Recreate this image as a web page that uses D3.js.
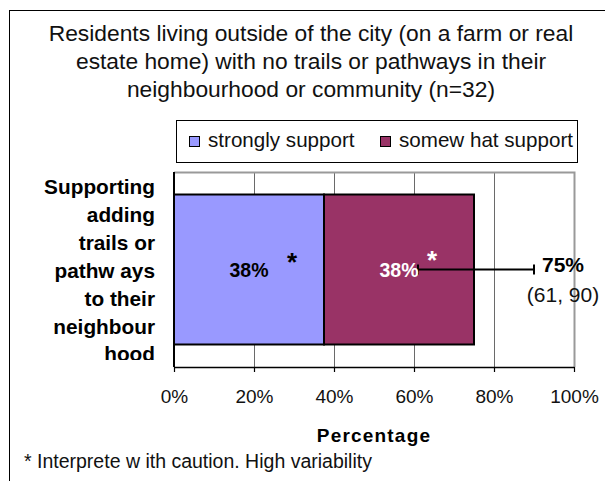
<!DOCTYPE html>
<html>
<head>
<meta charset="utf-8">
<script src="https://cdn.jsdelivr.net/npm/d3@7"></script>
<style>
  html, body { margin: 0; padding: 0; background: #fff; }
  svg { display: block; font-family: "Liberation Sans", Arial, sans-serif; }
</style>
</head>
<body>
<svg id="chart" width="605" height="481"></svg>
<script>
// ---- data ----
const titleLines = [
  "Residents living outside of the city (on a farm or real",
  "estate home) with no trails or pathways in their",
  "neighbourhood or community (n=32)"
];
const categoryName = "Supporting adding trails or pathways to their neighbourhood";
const categoryLines = ["Supporting", "adding", "trails or", "pathw ays", "to their", "neighbour", "hood"];
const seriesNames = ["strongly support", "somew hat support"];
const seriesValues = [37.5, 37.5];
const seriesColors = ["#9999FF", "#993366"];
const seriesLabelColors = ["#000000", "#ffffff"];
const ciBounds = [61, 90];
const xTicks = [0, 20, 40, 60, 80, 100];
const xTitle = "Percentage";
const footnote = "* Interprete w ith caution. High variability";

// ---- layout ----
const svg = d3.select("#chart");
const plot = { left: 174, right: 574, top: 172, bottom: 367 };

const x = d3.scaleLinear().domain([0, 100]).range([plot.left, plot.right]);
const y = d3.scaleBand().domain([categoryName]).range([plot.top, plot.bottom]).padding(0.1305);

// outer frame
svg.append("rect")
  .attr("x", 9.5).attr("y", 10.5)
  .attr("width", 700).attr("height", 600)
  .attr("fill", "none").attr("stroke", "#000").attr("stroke-width", 1);

// title
svg.append("g").selectAll("text")
  .data(titleLines).join("text")
  .attr("x", 311)
  .attr("y", (d, i) => 41 + i * 28)
  .attr("text-anchor", "middle")
  .attr("font-size", 22.8)
  .attr("fill", "#111")
  .text(d => d);

// legend
const legend = svg.append("g");
legend.append("rect")
  .attr("x", 176.5).attr("y", 120.5).attr("width", 401).attr("height", 42)
  .attr("fill", "#fff").attr("stroke", "#000").attr("stroke-width", 1);
const legendX = [189, 380];
const items = legend.selectAll("g.item").data(seriesNames).join("g")
  .attr("class", "item")
  .attr("transform", (d, i) => `translate(${legendX[i]},0)`);
items.append("rect")
  .attr("x", 0.5).attr("y", 136.5).attr("width", 10).attr("height", 10)
  .attr("fill", (d, i) => seriesColors[i]).attr("stroke", "#000").attr("stroke-width", 1);
items.append("text")
  .attr("x", 19).attr("y", 147)
  .attr("font-size", 20.6)
  .attr("fill", "#111")
  .text(d => d);

// gridlines
svg.append("g").selectAll("line")
  .data(xTicks.filter(t => t > 0 && t < 100)).join("line")
  .attr("x1", d => x(d) + 0.5).attr("x2", d => x(d) + 0.5)
  .attr("y1", plot.top).attr("y2", plot.bottom)
  .attr("stroke", "#6a6a6a").attr("stroke-width", 1);

// plot border (top and right in grey)
svg.append("path")
  .attr("d", `M${plot.left},${plot.top + 0.5}H${plot.right + 0.5}V${plot.bottom}`)
  .attr("fill", "none").attr("stroke", "#999").attr("stroke-width", 2);

// stacked bar segments
let acc = 0;
const segments = seriesValues.map((v, i) => {
  const s = { name: seriesNames[i], value: v, x0: acc, x1: acc + v, i };
  acc += v;
  return s;
});
const total = acc;

svg.append("g").selectAll("rect")
  .data(segments).join("rect")
  .attr("x", d => x(d.x0))
  .attr("y", y(categoryName))
  .attr("width", d => x(d.x1) - x(d.x0))
  .attr("height", y.bandwidth())
  .attr("fill", d => seriesColors[d.i])
  .attr("stroke", "#000").attr("stroke-width", 2);

// left axis line
svg.append("line")
  .attr("x1", plot.left).attr("x2", plot.left)
  .attr("y1", plot.top).attr("y2", plot.bottom)
  .attr("stroke", "#000").attr("stroke-width", 2);

// bottom axis
const xAxis = svg.append("g")
  .attr("transform", `translate(0,${plot.bottom})`)
  .call(d3.axisBottom(x).tickValues(xTicks).tickSize(5).tickSizeOuter(0).tickPadding(17.5)
    .tickFormat(d => d + "%"));
xAxis.select(".domain").attr("stroke", "#000").attr("stroke-width", 1.5);
xAxis.selectAll(".tick line").attr("stroke", "#000").attr("stroke-width", 1.2);
xAxis.selectAll(".tick text")
  .attr("font-family", "Liberation Sans, Arial, sans-serif")
  .attr("font-size", 19).attr("fill", "#111");

// axis title
svg.append("text")
  .attr("x", (plot.left + plot.right) / 2).attr("y", 442)
  .attr("text-anchor", "middle")
  .attr("font-size", 19).attr("font-weight", "bold")
  .attr("letter-spacing", 1.2)
  .text(xTitle);

// category label (wrapped, clipped at the bottom)
svg.append("clipPath").attr("id", "catClip")
  .append("rect").attr("x", 0).attr("y", 150).attr("width", 170).attr("height", 210);
svg.append("g").attr("clip-path", "url(#catClip)")
  .selectAll("text").data(categoryLines).join("text")
  .attr("x", 155)
  .attr("y", (d, i) => 194 + i * 27.9)
  .attr("text-anchor", "end")
  .attr("font-size", 20.8).attr("font-weight", "bold")
  .text(d => d);

const cy = y(categoryName) + y.bandwidth() / 2;

// confidence interval
const ci = svg.append("g").attr("stroke", "#000").attr("stroke-width", 2);
ci.append("line")
  .attr("x1", x(ciBounds[0])).attr("x2", x(ciBounds[1]))
  .attr("y1", cy).attr("y2", cy);
ci.selectAll("line.cap").data(ciBounds).join("line")
  .attr("class", "cap")
  .attr("x1", d => x(d)).attr("x2", d => x(d))
  .attr("y1", cy - 5).attr("y2", cy + 5);

// segment value labels with caution marks
const starOffset = [43, 33];
const segLabels = svg.append("g").selectAll("g")
  .data(segments).join("g");
segLabels.append("text")
  .attr("x", d => x((d.x0 + d.x1) / 2))
  .attr("y", cy + 7)
  .attr("text-anchor", "middle")
  .attr("font-size", 19.5).attr("font-weight", "bold")
  .attr("fill", d => seriesLabelColors[d.i])
  .text(d => Math.round(d.value) + "%");
segLabels.append("text")
  .attr("x", d => x((d.x0 + d.x1) / 2) + starOffset[d.i])
  .attr("y", d => cy + (d.i === 0 ? 1 : -1))
  .attr("text-anchor", "middle")
  .attr("font-size", 26).attr("font-weight", "bold")
  .attr("fill", d => seriesLabelColors[d.i])
  .text("*");

// total label and interval text
const totalX = x(ciBounds[1]) + 29;
svg.append("text")
  .attr("x", totalX).attr("y", cy + 2)
  .attr("text-anchor", "middle")
  .attr("font-size", 21).attr("font-weight", "bold")
  .text(Math.round(total) + "%");
svg.append("text")
  .attr("x", totalX).attr("y", cy + 32)
  .attr("text-anchor", "middle")
  .attr("font-size", 21)
  .attr("fill", "#111")
  .text(`(${ciBounds[0]}, ${ciBounds[1]})`);

// footnote
svg.append("text")
  .attr("x", 24).attr("y", 468)
  .attr("font-size", 19.5)
  .attr("fill", "#111")
  .text(footnote);
</script>
</body>
</html>
